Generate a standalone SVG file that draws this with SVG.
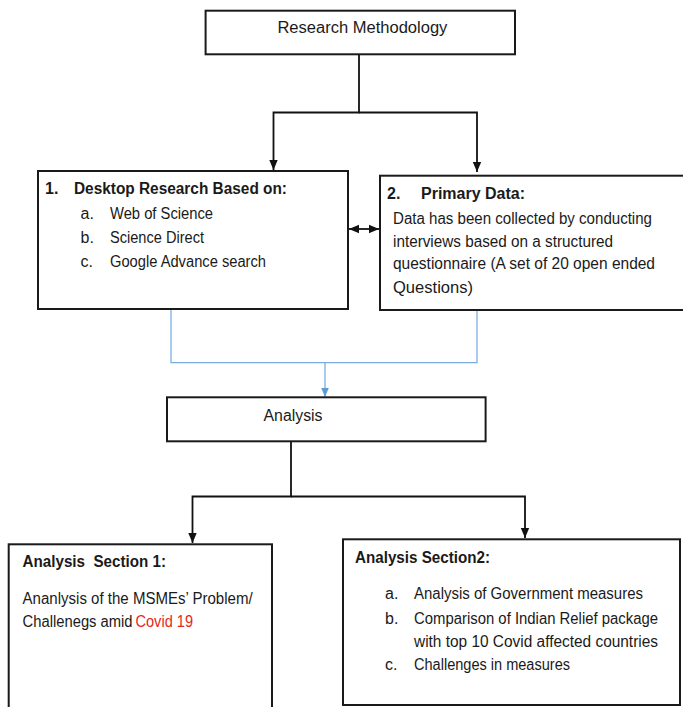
<svg xmlns="http://www.w3.org/2000/svg" width="683" height="707" viewBox="0 0 683 707">
<style>
.box{fill:#fff;stroke:#1a1a1a;stroke-width:2}
.t{font-family:"Liberation Sans",Arial,sans-serif;font-size:16px;fill:#1a1a1a}
.b{font-weight:bold}
.red{fill:#e8261c}
.k{fill:none;stroke:#111;stroke-width:1.8}
.bl{fill:none;stroke:#7aaee3;stroke-width:1.3}
</style>
<defs>
<marker id="ak" markerUnits="userSpaceOnUse" markerWidth="10" markerHeight="10" viewBox="0 0 10 10" refX="10" refY="5" orient="auto-start-reverse">
<path d="M0,0.8 L10,5 L0,9.2 Z" fill="#111"/>
</marker>
<marker id="ab" markerUnits="userSpaceOnUse" markerWidth="9" markerHeight="9" viewBox="0 0 10 10" refX="10" refY="5" orient="auto">
<path d="M0,0.8 L10,5 L0,9.2 Z" fill="#5b9bd5"/>
</marker>
</defs>
<rect width="683" height="707" fill="#fff"/>
<g id="connectors">
<path class="k" d="M359,54 V112.5 H273.5 V170" marker-end="url(#ak)"/>
<path class="k" d="M359,112.5 H477 V172" marker-end="url(#ak)"/>
<path class="k" d="M349,229 H379" marker-start="url(#ak)" marker-end="url(#ak)"/>
<path class="bl" d="M171,310 V362.7 H477 V310"/>
<path class="bl" d="M325,362.7 V397" marker-end="url(#ab)"/>
<path class="k" d="M291,441 V496.5 H192.5 V543" marker-end="url(#ak)"/>
<path class="k" d="M291,496.5 H525 V538" marker-end="url(#ak)"/>
</g>
<g id="research-methodology">
<rect class="box" x="205.6" y="10.7" width="309.4" height="43.6"/>
<text class="t" x="277.4" y="33.3" textLength="170" lengthAdjust="spacingAndGlyphs">Research Methodology</text>
</g>
<g id="desktop-research">
<rect class="box" x="38" y="171" width="310" height="138"/>
<text class="t b" x="45" y="194">1.</text>
<text class="t b" x="74" y="194" textLength="213" lengthAdjust="spacingAndGlyphs">Desktop Research Based on:</text>
<text class="t" x="80.5" y="219">a.</text>
<text class="t" x="110" y="219" textLength="103" lengthAdjust="spacingAndGlyphs">Web of Science</text>
<text class="t" x="80.5" y="242.5">b.</text>
<text class="t" x="110" y="242.5" textLength="94" lengthAdjust="spacingAndGlyphs">Science Direct</text>
<text class="t" x="80.5" y="266.5">c.</text>
<text class="t" x="110" y="266.5" textLength="156" lengthAdjust="spacingAndGlyphs">Google Advance search</text>
</g>
<g id="primary-data">
<rect class="box" x="380" y="175.7" width="310" height="134.3"/>
<text class="t b" x="387" y="199">2.</text>
<text class="t b" x="421" y="199" textLength="104" lengthAdjust="spacingAndGlyphs">Primary Data:</text>
<text class="t" x="393" y="224" textLength="259" lengthAdjust="spacingAndGlyphs">Data has been collected by conducting</text>
<text class="t" x="393" y="246.7" textLength="220" lengthAdjust="spacingAndGlyphs">interviews based on a structured</text>
<text class="t" x="393" y="269" textLength="262" lengthAdjust="spacingAndGlyphs">questionnaire (A set of 20 open ended</text>
<text class="t" x="393" y="292.5" textLength="80" lengthAdjust="spacingAndGlyphs">Questions)</text>
</g>
<g id="analysis">
<rect class="box" x="167" y="397.3" width="318.6" height="44"/>
<text class="t" x="263.5" y="420.7" textLength="59" lengthAdjust="spacingAndGlyphs">Analysis</text>
</g>
<g id="analysis-section-1">
<rect class="box" x="8.7" y="544.3" width="263.3" height="170"/>
<text class="t b" x="22.6" y="567.3" textLength="143.4" lengthAdjust="spacingAndGlyphs" xml:space="preserve">Analysis  Section 1:</text>
<text class="t" x="22.6" y="604" textLength="230" lengthAdjust="spacingAndGlyphs">Ananlysis of the MSMEs’ Problem/</text>
<text class="t" x="22.6" y="627.3" textLength="110" lengthAdjust="spacingAndGlyphs">Challenegs amid</text>
<text class="t red" x="135.5" y="627.3" textLength="57.5" lengthAdjust="spacingAndGlyphs">Covid 19</text>
</g>
<g id="analysis-section-2">
<rect class="box" x="343" y="539.3" width="337" height="165.7"/>
<text class="t b" x="355" y="562.7" textLength="135" lengthAdjust="spacingAndGlyphs">Analysis Section2:</text>
<text class="t" x="385" y="599">a.</text>
<text class="t" x="414" y="599" textLength="229" lengthAdjust="spacingAndGlyphs">Analysis of Government measures</text>
<text class="t" x="385" y="624">b.</text>
<text class="t" x="414" y="624" textLength="244" lengthAdjust="spacingAndGlyphs">Comparison of Indian Relief package</text>
<text class="t" x="414" y="646.7" textLength="244" lengthAdjust="spacingAndGlyphs">with top 10 Covid affected countries</text>
<text class="t" x="385" y="670">c.</text>
<text class="t" x="414" y="670" textLength="156" lengthAdjust="spacingAndGlyphs">Challenges in measures</text>
</g>
</svg>
